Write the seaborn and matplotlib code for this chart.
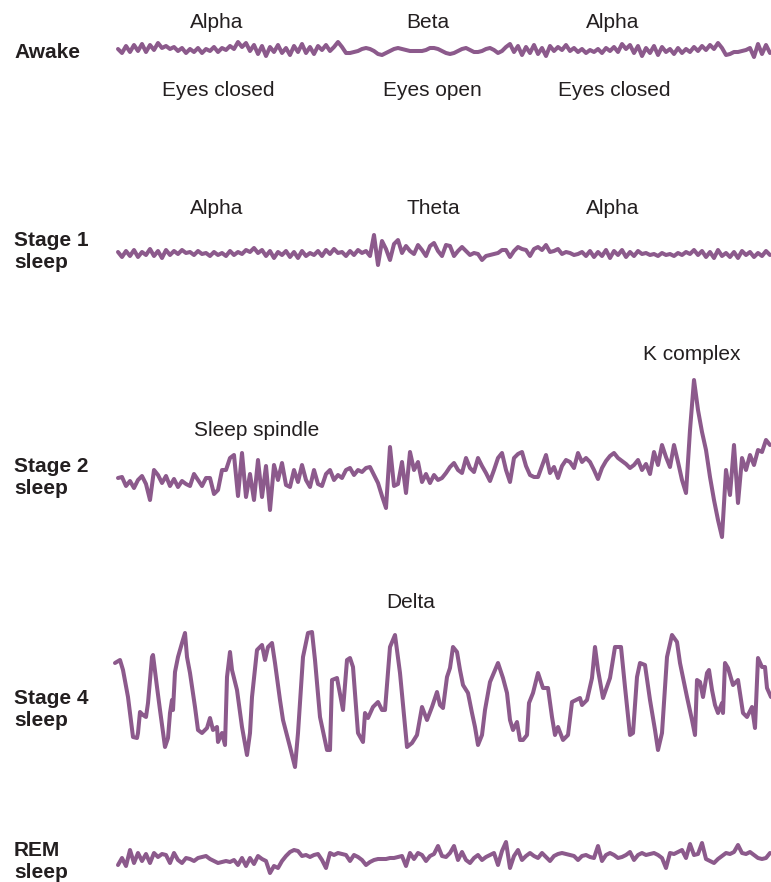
import numpy as np
import matplotlib
matplotlib.use("Agg")
import matplotlib.pyplot as plt
import seaborn as sns

## EEG amplitudes (arbitrary units, positive = up)
awake_uv = [1, -3, 4, -2, 5, -1, 6, -2, 5, 0, 7, 2, 4, 1, 3, -1, 2, -3, 1, -2,
            2, -3, 1, -1, 3, -2, 2, 0, 4, 1, 8, 3, 7, -1, 5, -4, 4, -6, 3, -2,
            5, -3, 2, -5, 4, -2, 6, -3, 3, -4, 4, 0, 5, -1, 3,
            8, 3, -3, -3, -2, -1, 1, 2, 1, -1, -4, -5, -3, -1, 1, 2, 1, 0, -1, -1,
            -1, -1, 0, 2, 2, 1, -1, -3, -4, -3, -1, 1, 2, 0, -2, -2, -1, 1, 2, 0,
            -3, -1, 3,
            6, -2, 4, -5, 3, -3, 5, -4, 2, -6, 4, -1, 3, 0, 5, -1, 2, -2, 1, -3,
            0, -2, 1, -3, 2, -1, 3, -2, 6, 1, 5, -3, 4, -6, 2, -3, 4, -5, 3, -2,
            1, -4, 2, -3, 1, -2, 3, -1, 4, 0, 5, 1,
            7, 2, -5, -4, -2, -2, -1, 0, 2, -7, 6, -4, 5, -3]

stage1_uv = [2, -3, 3, -2, 4, -3, 2, -1, 5, -2, 3, -4, 4, -1, 3, 0, 4, 1, 2, -1,
             3, 0, 1, -2, 2, -1, 1, -2, 3, -1, 2, 0, 4, 2, 6, 1, 4, -2, 3, -4,
             2, -1, 3, -3, 2, -4, 3, -2, 1, -1, 3, -2, 4, 0, 5, 1, 2, -2, 3, -1,
             4, 1, 3, -2,
             19, -11, 13, 5, -6, 10, 14, 1, 8, 3, 0, 9, 4, -2, 8, 11, 3, -2, 9, 8,
             -2, 3, 7, 3, -1, 1, 0, -6, -2, -1, 0, 1, 4, 4, -3, 3, 7, 5, 4, -2,
             5, 7, 4, 9, 2, 3, 5, 0, 2, 1, -1, 0, 2, -2,
             3, -3, 2, -2, 4, -4, 3, -1, 4, -3, 2, -2, 3, 0, 1, -1, 0, -2, 1, -1,
             0, -2, 1, -1, 2, 0, 4, -1, 3, -3, 2, -4, 4, -2, 1, -3, 2, -4, 3, -1,
             2, -3, 1, -2, 3, -1]

stage2_uv = [0, 1, -8, -3, -10, -2, 2, -6, -22, 8, 3, -5, 2, -8, -1, -9, -3, -6, -8, 4,
             -2, -8, 0, 0, -16, -12, 8, 8, 20, 23, -18, 25, -19, 4, -22, 18, -19, 12, -32, 13,
             -2, 15, -7, -9, 8, -4, 13, -2, -9, 8, -6, -8, 4, 8, -2, 3, 0, 8, 10, 3,
             8, 6, 10, 11, 3, -5, -18, -30, 31, -8, -6, 16, -15, 26, 8, 16, -4, 4, -5, 3,
             -2, 0, 5, 11, 15, 8, 5, 20, 10, 6, 20, 12, 5, -3, 8, 20, 25, 8, -4, 20,
             24, 26, 12, 3, 1, 1, 12, 23, 5, 11, 0, 12, 18, 16, 10, 25, 16, 20, 16, 8,
             -1, 10, 17, 22, 25, 20, 17, 14, 10, 13, 18, 8, 14, 4, 26, 13, 33, 21, 11, 33,
             16, -2, -15, 48, 98, 68, 46, 28, 1, -22, -42, -59, 8, -17, 33, -25, 20, 8, 23, 13,
             28, 26, 38, 33]

stage4_t = [-3, 2, 5, 10, 15, 19, 20, 22, 25, 28, 30, 34, 35, 39, 42, 47, 50, 52, 54, 55,
            57, 60, 64, 67, 69, 72, 77, 80, 84, 89, 92, 95, 99, 100, 104, 107, 109, 112, 114, 119,
            124, 129, 132, 134, 139, 144, 147, 150, 154, 157, 162, 165, 172, 177, 180, 185, 190, 194, 197, 202,
            209, 212, 214, 219, 225, 229, 232, 235, 240, 245, 247, 250, 255, 260, 264, 267, 272, 277, 282, 289,
            294, 299, 304, 309, 314, 319, 322, 325, 329, 332, 335, 339, 342, 345, 350, 354, 357, 360, 364, 367,
            372, 377, 380, 385, 389, 392, 395, 399, 402, 405, 409, 411, 415, 420, 425, 430, 434, 437, 440, 445,
            450, 454, 462, 464, 469, 474, 477, 480, 485, 492, 497, 503, 507, 512, 515, 519, 522, 527, 532, 537,
            540, 544, 549, 554, 559, 562, 569, 574, 577, 579, 582, 585, 589, 591, 594, 597, 600, 604, 605, 607,
            610, 615, 620, 625, 629, 634, 637, 640, 644, 647, 649, 653]
stage4_uv = [37, 40, 30, 3, -37, -38, -33, -12, -15, -17, -3, 43, 45, 13, -10, -47, -38, -13, 0, -10,
             28, 43, 57, 67, 43, 27, -7, -30, -33, -28, -18, -30, -27, -42, -33, -45, 23, 48, 30, 10,
             -27, -55, -33, 3, 50, 55, 40, 53, 57, 37, 0, -20, -47, -67, -33, 43, 67, 68, 40, -17,
             -50, -50, 20, 22, -10, 40, 42, 33, -33, -42, -13, -18, -7, -2, -10, -10, 53, 65, 27, -47,
             -43, -35, -7, -20, -7, 8, -5, -8, 23, 32, 53, 48, 30, 15, 7, -13, -27, -45, -35, -10,
             18, 30, 37, 22, 7, -20, -30, -22, -40, -40, -35, -3, 7, 27, 12, 12, -17, -35, -27, -40,
             -35, -2, 2, -5, 0, 22, 53, 30, 2, 22, 53, 53, 13, -35, -33, 23, 37, 35, 0, -30,
             -50, -33, 43, 65, 58, 37, 3, -20, -35, 20, 18, 3, 27, 30, 10, -5, -13, -3, -13, 37,
             32, 15, 20, -13, -17, -7, -28, 42, 33, 33, 12, 3]

rem_uv = [-7, 0, -8, 8, -5, 5, -3, 4, -5, 5, 1, 4, 3, -5, 5, -2, -5, 0, -1, -3,
          0, 1, 2, -1, -3, -5, -4, -3, -4, -2, -7, 0, -8, 0, -6, 2, -1, -3, -15, -8,
          -10, -3, 2, 6, 8, 7, 2, 3, 1, 3, 4, -2, -10, 5, 3, 5, 4, 3, -3, 3,
          1, -2, -7, -4, -2, -1, -1, -1, 0, 0, 1, 2, -8, 5, -1, 5, 3, -3, 2, 4,
          12, 2, 1, 5, 12, -2, 6, -2, -5, 0, 3, -2, 1, 3, 5, -7, 7, 16, -10, 2,
          8, -2, 2, 5, 2, 0, 5, 1, -3, 2, 4, 5, 4, 3, 2, -2, 2, 3, 1, 0,
          12, -3, 3, 5, 3, 0, 1, 3, 6, -2, 3, 5, 3, 4, 5, 3, 0, -10, 5, 4,
          6, 8, 0, 14, 3, 4, 15, -1, -3, -5, -1, 2, 5, 4, 6, 13, 5, 4, 6, 3,
          0, -1, 0, 5]

row_labels = ["Awake", "Stage 1\nsleep", "Stage 2\nsleep", "Stage 4\nsleep", "REM\nsleep"]

# (text, time, amplitude) annotations for each trace
awake_notes = [("Alpha", 99, 28), ("Beta", 310, 28), ("Alpha", 495, 28),
               ("Eyes closed", 100, -41), ("Eyes open", 314, -41), ("Eyes closed", 496, -41)]
stage1_notes = [("Alpha", 99, 45), ("Theta", 315, 45), ("Alpha", 495, 45)]
stage2_notes = [("Sleep spindle", 139, 48), ("K complex", 574, 123)]
stage4_notes = [("Delta", 293, 98)]

W, H = 771, 882
PURPLE = "#8c5a8c"
INK = "#231f20"

sns.set_style("white")
plt.rcParams['font.family'] = ['Liberation Sans', 'DejaVu Sans']

fig = plt.figure(figsize=(W / 100, H / 100), dpi=100)


def trace_ax(base, half=130):
    # one transparent axes per trace, 1 amplitude unit ~ 1 px
    ax = fig.add_axes([114 / W, (H - base - half) / H, (W - 114) / W, 2 * half / H])
    ax.set_xlim(-4, 653)
    ax.set_ylim(-half, half)
    ax.axis("off")
    ax.patch.set_alpha(0)
    return ax


rows = [
    (awake_uv, None, 50, awake_notes, 53),
    (stage1_uv, None, 254, stage1_notes, 252),
    (stage2_uv, None, 478, stage2_notes, 477),
    (stage4_uv, stage4_t, 700, stage4_notes, 710),
    (rem_uv, None, 858, [], 861),
]

for (vals, times, base, notes, label_y), name in zip(rows, row_labels):
    ax = trace_ax(base)
    if times is None:
        times = np.linspace(0, 652, len(vals))
    sns.lineplot(x=times, y=vals, ax=ax, color=PURPLE, linewidth=2.9,
                 estimator=None, sort=False)
    l = ax.get_lines()[-1]
    l.set_solid_joinstyle("round")
    l.set_clip_on(False)
    for txt, t, a in notes:
        ax.text(t, a, txt, ha="center", va="center", fontsize=15, color=INK)
    fig.text(14 / W, 1 - label_y / H, name, ha="left", va="center",
             fontsize=15, fontweight="bold", color=INK, linespacing=1.2)

fig.savefig("out.png", dpi=100)
